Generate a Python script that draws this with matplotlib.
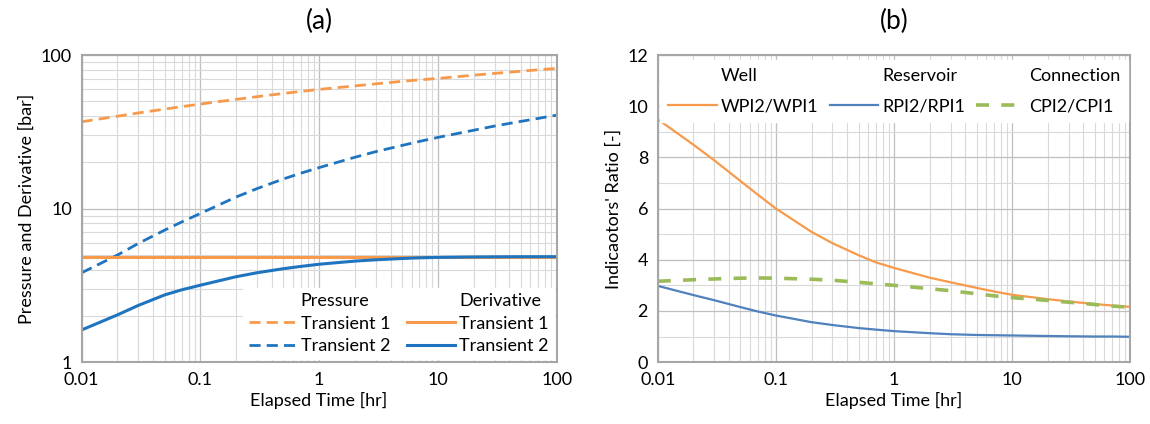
import matplotlib
matplotlib.use("Agg")
import matplotlib.pyplot as plt
from matplotlib.lines import Line2D
from matplotlib.ticker import FuncFormatter, LogLocator, NullFormatter, MultipleLocator

plt.rcParams['font.family'] = ['Lato', 'DejaVu Sans']

# elapsed time samples [hr]
t = [0.01, 0.02, 0.03, 0.05, 0.07, 0.1, 0.2, 0.3, 0.5, 0.7, 1,
     2, 3, 5, 7, 10, 20, 30, 50, 70, 100]

# (a) pressure and derivative [bar]
p_tr1 = [36.8, 40, 42, 44.5, 46.2, 48, 51.5, 53.6, 56.3, 58, 59.8,
         63, 65, 67.5, 69, 70.5, 74, 76, 78.5, 80.3, 81.9]
p_tr2 = [3.82, 4.98, 5.93, 7.24, 8.2, 9.3, 11.9, 13.5, 15.6, 17.0, 18.5,
         21.6, 23.5, 25.8, 27.4, 29.1, 32.4, 34.5, 37.0, 38.7, 40.6]
d_tr1 = [4.86] * len(t)
d_tr2 = [1.62, 2.03, 2.34, 2.74, 2.96, 3.17, 3.6, 3.82, 4.06, 4.2, 4.34,
         4.55, 4.64, 4.73, 4.78, 4.81, 4.84, 4.85, 4.86, 4.86, 4.86]

# (b) indicator ratios [-]
wpi = [9.49, 8.5, 7.89, 7.08, 6.55, 6.0, 5.09, 4.65, 4.18, 3.9, 3.68,
       3.3, 3.12, 2.9, 2.76, 2.63, 2.46, 2.37, 2.27, 2.21, 2.16]
rpi = [2.98, 2.62, 2.42, 2.15, 1.98, 1.82, 1.56, 1.45, 1.33, 1.27, 1.21,
       1.13, 1.09, 1.06, 1.05, 1.04, 1.02, 1.01, 1.0, 1.0, 0.99]
cpi = [3.16, 3.22, 3.25, 3.28, 3.29, 3.28, 3.24, 3.2, 3.12, 3.06, 3.0,
       2.87, 2.79, 2.67, 2.59, 2.52, 2.41, 2.34, 2.25, 2.19, 2.14]

orange = '#F79A4C'
blue_a = '#1F74BF'
blue_b = '#4F81BD'
green = '#9BBB59'
spine_c = '#A6A6A6'
fs = 13

fig = plt.figure(figsize=(11.5, 4.24), dpi=100)
ax1 = fig.add_axes([0.071, 0.146, 0.413, 0.724])
ax2 = fig.add_axes([0.572, 0.146, 0.411, 0.724])

fmt = FuncFormatter(lambda v, p: ('%g' % v))

for ax in (ax1, ax2):
    ax.set_xscale('log')
    ax.set_xlim(0.01, 100)
    ax.xaxis.set_major_locator(LogLocator(base=10))
    ax.xaxis.set_minor_locator(LogLocator(base=10, subs=range(2, 10)))
    ax.xaxis.set_major_formatter(fmt)
    ax.xaxis.set_minor_formatter(NullFormatter())
    ax.grid(True, which='major', color='#BFBFBF', lw=0.9)
    ax.grid(True, which='minor', color='#D9D9D9', lw=0.8)
    ax.set_axisbelow(True)
    for s in ax.spines.values():
        s.set_color(spine_c)
        s.set_linewidth(1.5)
    ax.tick_params(which='both', length=0, labelsize=fs, pad=7)
    ax.set_xlabel('Elapsed Time [hr]', fontsize=fs, labelpad=3)

# panel (a)
ax1.set_yscale('log')
ax1.set_ylim(1, 100)
ax1.yaxis.set_major_locator(LogLocator(base=10))
ax1.yaxis.set_minor_locator(LogLocator(base=10, subs=range(2, 10)))
ax1.yaxis.set_major_formatter(fmt)
ax1.yaxis.set_minor_formatter(NullFormatter())
ax1.set_ylabel('Pressure and Derivative [bar]', fontsize=fs)
ax1.set_title('(a)', fontsize=19, pad=19)

l1, = ax1.plot(t, p_tr1, color=orange, lw=2, ls=(0, (4, 2.2)))
l2, = ax1.plot(t, p_tr2, color=blue_a, lw=2, ls=(0, (4, 2.2)))
l3, = ax1.plot(t, d_tr1, color=orange, lw=2.2)
l4, = ax1.plot(t, d_tr2, color=blue_a, lw=2.2)

blank = Line2D([], [], color='none')
ax1.legend([blank, l1, l2, blank, l3, l4],
           ['Pressure', 'Transient 1', 'Transient 2', 'Derivative', 'Transient 1', 'Transient 2'],
           ncol=2, loc='lower right', fontsize=fs, frameon=True, fancybox=False,
           framealpha=1, edgecolor='white', handlelength=2.7, handletextpad=0.2,
           columnspacing=0.9, labelspacing=0.35, borderaxespad=0.15,
           borderpad=0.3)

# panel (b)
ax2.set_ylim(0, 12)
ax2.yaxis.set_major_locator(MultipleLocator(2))
ax2.yaxis.set_minor_locator(MultipleLocator(1))
ax2.yaxis.set_major_formatter(fmt)
ax2.set_ylabel("Indicaotors' Ratio [-]", fontsize=fs)
ax2.set_title('(b)', fontsize=19, pad=19)

m1, = ax2.plot(t, wpi, color=orange, lw=1.6)
m2, = ax2.plot(t, rpi, color=blue_b, lw=1.6)
m3, = ax2.plot(t, cpi, color=green, lw=2.6, ls=(0, (3.6, 3.4)))

ax2.legend([blank, m1, blank, m2, blank, m3],
           ['Well', 'WPI2/WPI1', 'Reservoir', 'RPI2/RPI1', 'Connection', 'CPI2/CPI1'],
           ncol=3, loc='upper left', bbox_to_anchor=(0.005, 0.985, 0.99, 0.0),
           mode='expand', fontsize=fs, frameon=True, fancybox=False,
           framealpha=1, edgecolor='white', handlelength=2.7, handletextpad=0.2,
           columnspacing=0.8, labelspacing=0.8, borderaxespad=0.0,
           borderpad=0.45)

fig.savefig('out.png', dpi=100)
